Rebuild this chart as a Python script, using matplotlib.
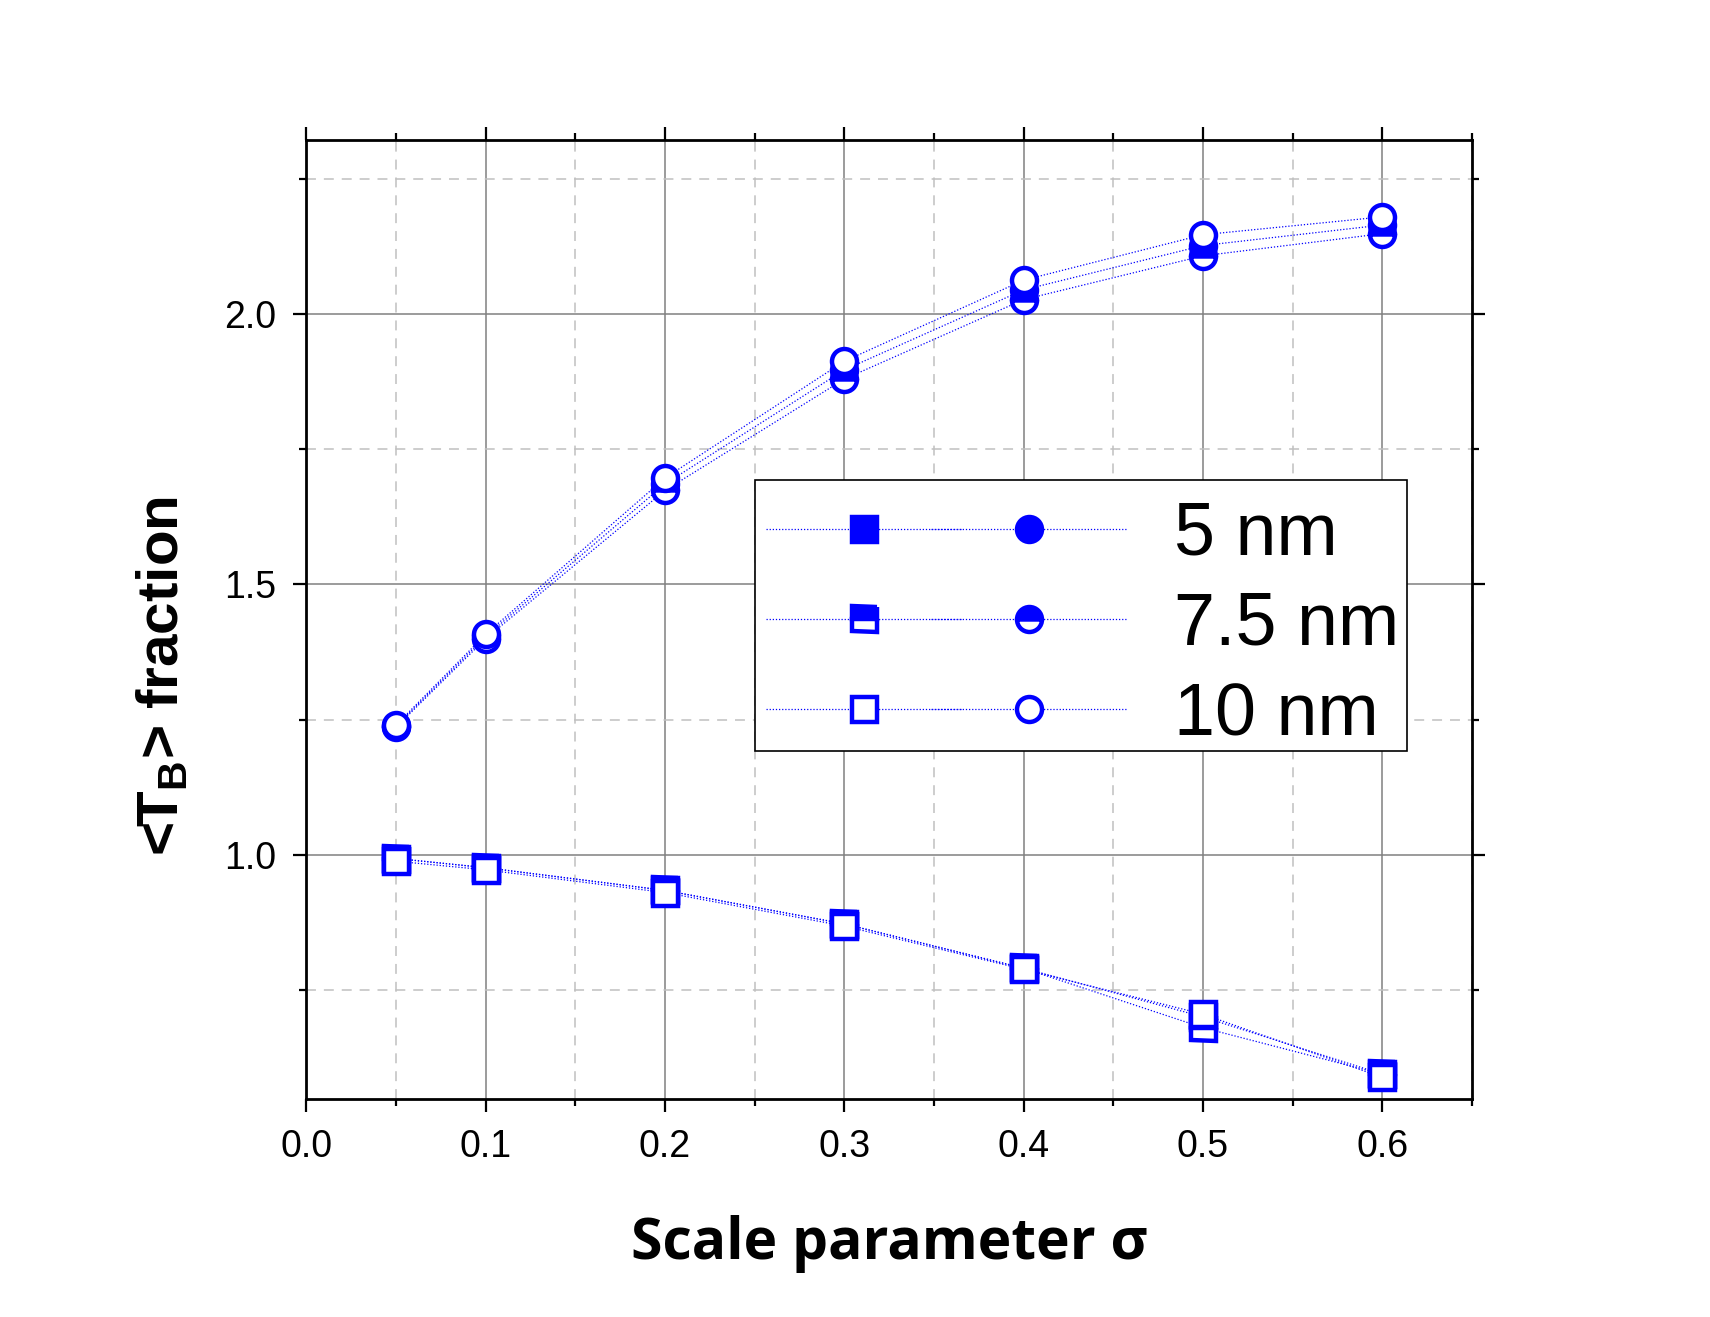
import matplotlib
matplotlib.use('Agg')
import matplotlib.pyplot as plt
from matplotlib.legend_handler import HandlerTuple
from matplotlib.patches import Rectangle
from matplotlib.ticker import MultipleLocator

# ---------------- data ----------------
sigma = [0.05, 0.1, 0.2, 0.3, 0.4, 0.5, 0.6]
sizes = ['5 nm', '7.5 nm', '10 nm']
upper_5 = [1.238, 1.404, 1.686, 1.897, 2.045, 2.127, 2.165]
upper_75 = [1.236, 1.400, 1.674, 1.880, 2.027, 2.108, 2.149]
upper_10 = [1.240, 1.408, 1.697, 1.913, 2.063, 2.147, 2.180]
lower_5 = [0.993, 0.976, 0.934, 0.872, 0.790, 0.700, 0.594]
lower_75 = [0.993, 0.976, 0.934, 0.872, 0.790, 0.680, 0.594]
lower_10 = [0.988, 0.972, 0.930, 0.868, 0.788, 0.705, 0.588]
x_ticks = [0.0, 0.1, 0.2, 0.3, 0.4, 0.5, 0.6]
y_ticks = [1.0, 1.5, 2.0]

plt.rcParams['font.family'] = ['Liberation Sans', 'DejaVu Sans']
plt.rcParams['mathtext.fontset'] = 'custom'
plt.rcParams['mathtext.rm'] = 'Liberation Sans'
plt.rcParams['mathtext.bf'] = 'Liberation Sans:bold'

BLUE = '#0000FF'
fig = plt.figure(figsize=(17.1, 13.17), dpi=100)
ax = fig.add_axes([0.1792, 0.1655, 0.8608 - 0.1792, 0.894 - 0.1655])

ms, mew = 18, 3.2
styles = [
    dict(markerfacecolor=BLUE, fillstyle='full'),
    dict(markerfacecolor=BLUE, markerfacecoloralt='white', fillstyle='top'),
    dict(markerfacecolor='white', fillstyle='full'),
]
uppers = [upper_5, upper_75, upper_10]
lowers = [lower_5, lower_75, lower_10]
handles = []
for up, lo, st in zip(uppers, lowers, styles):
    sq, = ax.plot(sigma, lo, ls=(0, (1, 1.5)), lw=0.9, color=BLUE, marker='s',
                  ms=ms, mew=mew, markeredgecolor=BLUE, **st)
    ci, = ax.plot(sigma, up, ls=(0, (1, 1.5)), lw=0.9, color=BLUE, marker='o',
                  ms=ms, mew=mew, markeredgecolor=BLUE, **st)
    handles.append((sq, ci))

ax.set_xlim(0.0, 0.65)
ax.set_ylim(0.548, 2.323)
ax.set_xticks(x_ticks)
ax.set_xticklabels([f'{v:.1f}' for v in x_ticks])
ax.set_yticks(y_ticks)
ax.set_yticklabels([f'{v:.1f}' for v in y_ticks])
ax.xaxis.set_minor_locator(MultipleLocator(0.05))
ax.yaxis.set_minor_locator(MultipleLocator(0.25))

ax.set_axisbelow(True)
ax.grid(which='major', color='#808080', lw=1.1, ls='-')
ax.grid(which='minor', color='#c0c0c0', lw=1.1, ls=(0, (6.5, 5.2)))

ax.tick_params(which='both', direction='out', top=True, right=True,
               width=1.6, labelsize=27, pad=12, colors='black')
ax.tick_params(which='major', length=9.5)
ax.tick_params(which='minor', length=5)
for sp in ax.spines.values():
    sp.set_linewidth(2)

ax.set_xlabel('Scale parameter σ', fontsize=41, fontweight='bold',
              family=['Open Sans', 'DejaVu Sans'])
ax.xaxis.set_label_coords(0.5, -0.151)
ax.xaxis.label.set_va('center')

ax.set_ylabel(r'<T$_{\mathbf{B}}$> fraction', fontsize=42, fontweight='bold')
ax.yaxis.set_label_coords(-0.1231, 0.4409)
ax.yaxis.label.set_va('center')

# legend frame (drawn separately so that the row placement can match)
frame = Rectangle((0.3846, 0.3623), 0.9441 - 0.3846, 0.6453 - 0.3623,
                  transform=ax.transAxes, facecolor='white', edgecolor='black',
                  lw=1.2, zorder=4.9)
ax.add_patch(frame)

leg = ax.legend(handles, sizes,
                handler_map={tuple: HandlerTuple(ndivide=None, pad=-0.40)},
                loc='upper left', bbox_to_anchor=(0.3846, 0.6362), borderaxespad=0,
                fontsize=53, handlelength=4.88, handletextpad=0.65,
                borderpad=0.16, labelspacing=0.29, numpoints=1,
                frameon=False)
leg.set_zorder(5)

fig.savefig('out.png', dpi=100)
